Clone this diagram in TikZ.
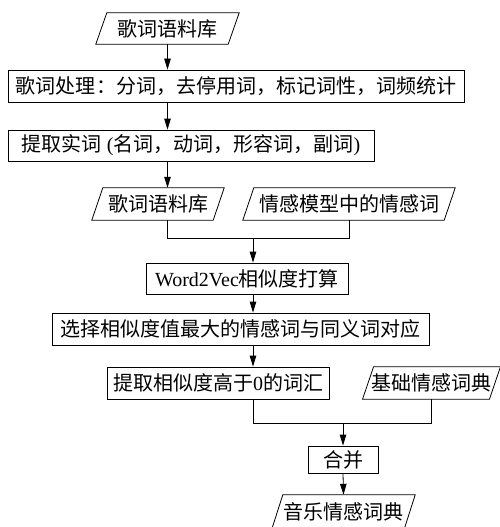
\documentclass[tikz,border=0pt]{standalone}
\usepackage{fontspec}
\setmainfont{Liberation Serif}
\newfontfamily\cjk{Noto Sans CJK SC}
\usetikzlibrary{arrows.meta}
\tikzset{
  box/.style={draw, line width=0.8pt, rectangle, inner sep=0pt, font=\fontsize{20}{20}\selectfont},
  paratext/.style={rectangle, inner sep=0pt, font=\fontsize{20}{20}\selectfont},
  paraline/.style={draw, line width=0.8pt},
  conn/.style={line width=0.8pt},
  arr/.style={line width=0.8pt, -{Triangle[length=11pt,width=6.5pt]}}
}
\newcommand{\drawpara}[1]{%
  \draw[paraline] ([xshift=5.5pt]#1.north west) -- ([xshift=5.5pt]#1.north east)
    -- ([xshift=-5.5pt]#1.south east) -- ([xshift=-5.5pt]#1.south west) -- cycle;}
\begin{document}
\begin{tikzpicture}[x=1pt,y=-1pt]
\useasboundingbox (0,0) rectangle (499,527);
% nodes
\node[paratext, minimum width=132pt, minimum height=31pt] (p1) at (167.5,28.5) {\cjk 歌词语料库};
\drawpara{p1}
\node[box, minimum width=456pt, minimum height=32pt] (b2) at (236,86) {\cjk 歌词处理：分词，去停用词，标记词性，词频统计};
\node[box, minimum width=366pt, minimum height=31pt] (b3) at (191,145.5) {{\cjk 提取实词} ({\cjk 名词，动词，形容词，副词})};
\node[paratext, minimum width=121pt, minimum height=32pt] (p2) at (158,204) {\cjk 歌词语料库};
\drawpara{p2}
\node[paratext, minimum width=201pt, minimum height=32pt] (p3) at (349,204) {\cjk 情感模型中的情感词};
\drawpara{p3}
\node[box, minimum width=202pt, minimum height=31pt] (w2v) at (247,278.5) {Word2Vec{\cjk 相似度打算}};
\node[box, minimum width=377pt, minimum height=32pt] (sel) at (240.5,329) {\cjk 选择相似度值最大的情感词与同义词对应};
\node[box, minimum width=222pt, minimum height=32pt] (ext) at (218,383) {{\cjk 提取相似度高于}0{\cjk 的词汇}};
\node[paratext, minimum width=126.5pt, minimum height=32pt] (base) at (431.5,383) {\cjk 基础情感词典};
\drawpara{base}
\node[box, minimum width=70pt, minimum height=27pt] (merge) at (343,459.5) {\cjk 合并};
\node[paratext, minimum width=132pt, minimum height=34pt] (music) at (343.5,512) {\cjk 音乐情感词典};
\drawpara{music}
\coordinate (j1) at (253,238);
\coordinate (j2) at (343,423);
% connectors
\draw[arr] (p1.south) -- (p1.south |- b2.north);
\draw[arr] (p1.south |- b2.south) -- (p1.south |- b3.north);
\draw[arr] (p1.south |- b3.south) -- (p1.south |- p2.north);
\draw[conn] (p1.south |- p2.south) |- (j1);
\draw[conn] (p3.south) |- (j1);
\draw[arr] (j1) -- (j1 |- w2v.north);
\draw[arr] (j1 |- w2v.south) -- (j1 |- sel.north);
\draw[arr] (j1 |- sel.south) -- (j1 |- ext.north);
\draw[conn] (j1 |- ext.south) |- (j2);
\draw[conn] (base.south) |- (j2);
\draw[arr] (j2) -- (merge.north);
\draw[arr] (merge.south) -- (music.north);
\end{tikzpicture}
\end{document}
